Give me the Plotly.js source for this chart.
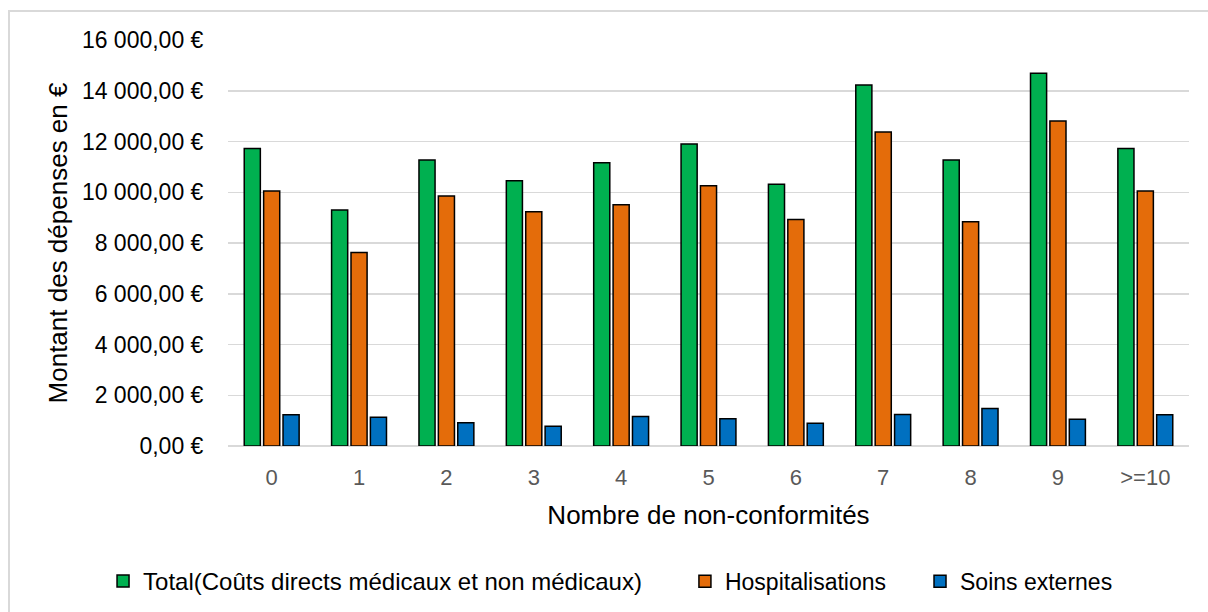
<!DOCTYPE html>
<html>
<head>
<meta charset="utf-8">
<script src="https://cdn.plot.ly/plotly-3.0.1.min.js"></script>
<style>
  html, body { margin: 0; padding: 0; background: #ffffff; }
  #wrap { position: relative; width: 1208px; height: 612px; overflow: hidden; }
  #chart { position: absolute; left: 0; top: 0; width: 1208px; height: 612px; }
  #frame { position: absolute; left: 8px; top: 10px; width: 1210px; height: 620px;
           border-left: 2px solid #d9d9d9; border-top: 2px solid #d9d9d9; pointer-events: none; }
</style>
</head>
<body>
<div id="wrap">
  <div id="chart"></div>
  <div id="frame"></div>
</div>
<script>
// Categories: number of non-conformities
const categories = ['0', '1', '2', '3', '4', '5', '6', '7', '8', '9', '>=10'];

// Average spending per category (euros)
const totalCosts      = [11720, 9300, 11270, 10450, 11160, 11900, 10320, 14230, 11270, 14690, 11720];
const hospitalisation = [10050, 7630, 9850, 9230, 9510, 10260, 8930, 12370, 8840, 12810, 10050];
const externalCare    = [1230, 1135, 915, 780, 1160, 1070, 900, 1240, 1480, 1055, 1230];

// Y axis ticks
const yTickValues = [0, 2000, 4000, 6000, 8000, 10000, 12000, 14000, 16000];
const yTickLabels = ['0,00 €', '2 000,00 €', '4 000,00 €', '6 000,00 €', '8 000,00 €',
                     '10 000,00 €', '12 000,00 €', '14 000,00 €', '16 000,00 €'];

const seriesNames = ['Total(Coûts directs médicaux et non médicaux)', 'Hospitalisations', 'Soins externes'];
const seriesColors = ['#00b050', '#e46c0a', '#0070c0'];
const seriesValues = [totalCosts, hospitalisation, externalCare];
const legendIds = ['legend', 'legend2', 'legend3'];

const traces = seriesValues.map((vals, i) => ({
  type: 'bar',
  name: seriesNames[i],
  legend: legendIds[i],
  x: categories,
  y: vals,
  marker: { color: seriesColors[i], line: { color: '#000000', width: 1.5 } },
  hoverinfo: 'x+y+name'
}));

const font = 'Liberation Sans, Arial, sans-serif';

// one legend box per series, spread along the bottom row of the figure
function legendBox(x, size) {
  return {
    orientation: 'h',
    xref: 'container', yref: 'container',
    x: x, xanchor: 'left',
    y: 0.05, yanchor: 'middle',
    font: { family: font, size: size, color: '#000000' },
    itemwidth: 30,
    bgcolor: 'rgba(0,0,0,0)'
  };
}

const layout = {
  width: 1208,
  height: 612,
  paper_bgcolor: '#ffffff',
  plot_bgcolor: '#ffffff',
  margin: { l: 228, r: 19, t: 40, b: 166, pad: 0 },
  barmode: 'group',
  bargap: 0.334,
  bargroupgap: 0.17,
  font: { family: font, size: 23, color: '#000000' },
  xaxis: {
    type: 'category',
    tickfont: { family: font, size: 22, color: '#595959' },
    ticks: 'outside', ticklen: 12, tickcolor: 'rgba(0,0,0,0)',
    showline: false,
    showgrid: false,
    zeroline: false,
    title: { text: 'Nombre de non-conformités', font: { family: font, size: 26, color: '#000000' }, standoff: 16 }
  },
  yaxis: {
    range: [0, 16000],
    tickvals: yTickValues,
    ticktext: yTickLabels,
    tickfont: { family: font, size: 23, color: '#000000' },
    ticks: 'outside', ticklen: 19, tickcolor: 'rgba(0,0,0,0)',
    gridcolor: '#d9d9d9',
    gridwidth: 1.5,
    zeroline: true,
    zerolinecolor: '#d9d9d9',
    zerolinewidth: 1.5,
    showline: false,
    title: { text: 'Montant des dépenses en €', font: { family: font, size: 26, color: '#000000' }, standoff: 6 }
  },
  showlegend: true,
  legend: legendBox(0.0853, 24),
  legend2: legendBox(0.567, 23),
  legend3: legendBox(0.7616, 23)
};

Plotly.newPlot('chart', traces, layout, { displayModeBar: false, staticPlot: true });
</script>
</body>
</html>
